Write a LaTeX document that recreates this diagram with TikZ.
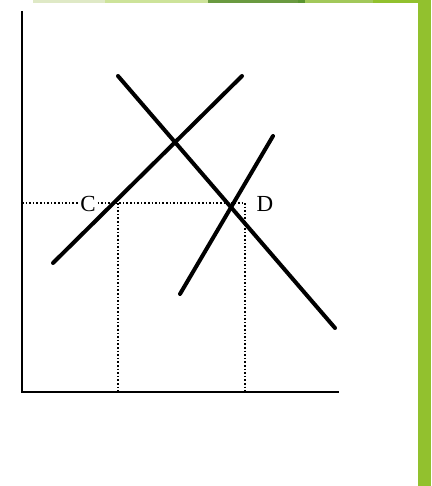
\documentclass[tikz,border=0pt]{standalone}
\usepackage{fontspec}
\setmainfont{Liberation Serif}
\definecolor{gA}{HTML}{DFE9C6}
\definecolor{gB}{HTML}{CDE39A}
\definecolor{gC}{HTML}{6A9A40}
\definecolor{gD}{HTML}{5A9430}
\definecolor{gE}{HTML}{A2C85A}
\definecolor{gF}{HTML}{92C12E}
\begin{document}
\begin{tikzpicture}[x=1pt,y=-1pt,
  curve/.style={line width=4pt,line cap=round},
  axis/.style={line width=2.8pt},
  guide/.style={line width=1.6pt,dotted},
  lbl/.style={font=\fontsize{23}{23}\selectfont,inner sep=1pt,fill=white}]
\useasboundingbox (0,0) rectangle (431,486);
\fill[white] (0,0) rectangle (431,486);
% top green band
\fill[gA] (33,0) rectangle (105,3);
\fill[gB] (105,0) rectangle (208,3);
\fill[gC] (208,0) rectangle (298,3);
\fill[gD] (298,0) rectangle (305,3);
\fill[gE] (305,0) rectangle (373,3);
\fill[gF] (373,0) rectangle (431,3);
% right green bar
\fill[gF] (418,0) rectangle (431,486);
% coordinates
\coordinate (ytop) at (22,11);
\coordinate (O) at (22,392);
\coordinate (xend) at (339,392);
\coordinate (s1a) at (53,263);
\coordinate (s1b) at (242,76);
\coordinate (da) at (118,76);
\coordinate (db) at (335,328);
\coordinate (s2a) at (180,294);
\coordinate (s2b) at (273,136);
\coordinate (yl) at (22,203);
\coordinate (pC) at (118,203);
\coordinate (pD) at (245,203);
\coordinate (qC) at (118,392);
\coordinate (qD) at (245,392);
% guides
\draw[guide] (yl) -- (pD);
\draw[guide] (pC) -- (qC);
\draw[guide] (pD) -- (qD);
% axes
\draw[axis] (ytop) -- (O) -- (xend);
% curves
\draw[curve] (s1a) -- (s1b);
\draw[curve] (da) -- (db);
\draw[curve] (s2a) -- (s2b);
% labels
\node[lbl] (C) at (88,204) {C};
\node[lbl] (D) at (265,204) {D};
\end{tikzpicture}
\end{document}
